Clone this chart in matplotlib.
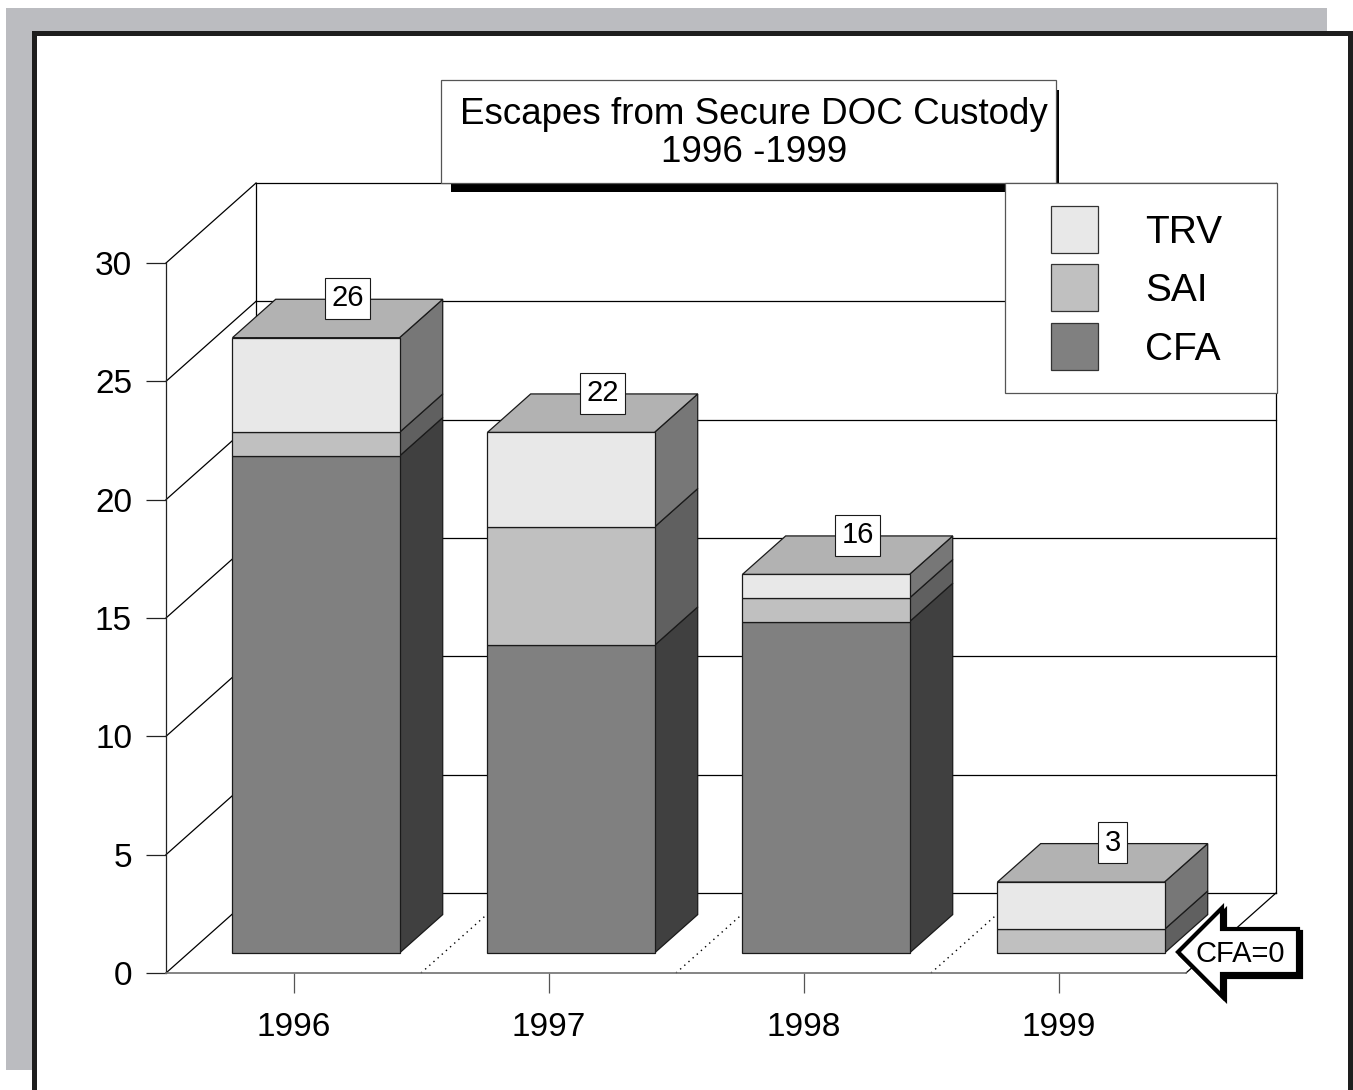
import matplotlib
matplotlib.use('Agg')
import matplotlib.pyplot as plt
from matplotlib.patches import Polygon, Rectangle

plt.rcParams['font.family'] = ['Liberation Sans', 'DejaVu Sans']

# data
years = ['1996', '1997', '1998', '1999']
cfa = [21, 13, 14, 0]
sai = [1, 5, 1, 1]
trv = [4, 4, 1, 2]
totals = [26, 22, 16, 3]
series_names = ['CFA', 'SAI', 'TRV']
front_colors = {'CFA': '#808080', 'SAI': '#c0c0c0', 'TRV': '#e8e8e8'}
side_colors = {'CFA': '#404040', 'SAI': '#606060', 'TRV': '#777777'}
top_colors = {'CFA': '#6a6a6a', 'SAI': '#a0a0a0', 'TRV': '#b2b2b2'}
yticks = [0, 5, 10, 15, 20, 25, 30]

W, H = 1353, 1090
fig = plt.figure(figsize=(W / 100, H / 100), dpi=100)

# background frame (pixel coordinates)
ax_bg = fig.add_axes([0, 0, 1, 1], zorder=0)
ax_bg.set_xlim(0, W)
ax_bg.set_ylim(H, 0)
ax_bg.axis('off')
ax_bg.add_patch(Rectangle((6, 8), 1321, 1062, facecolor='#bbbcc0', edgecolor='none'))
ax_bg.add_patch(Rectangle((33.5, 32.5), 1316, 1080, facecolor='white',
                          edgecolor='#1e1e1e', linewidth=3.6))

# chart axes: front plane of the 3d box
x0px, x1px, y0px, y30px = 166, 1186, 973, 263
ax = fig.add_axes([x0px / W, 1 - y0px / H, (x1px - x0px) / W, (y0px - y30px) / H], zorder=1)
ax.set_xlim(-0.5, 3.5)
ax.set_ylim(0, 30)
ax.patch.set_visible(False)

DX = 90 / 255.0                       # depth offset in category units
DY = 80 / ((y0px - y30px) / 30.0)     # depth offset in value units


def proj(x, y, z):
    return (x + z * DX, y + z * DY)


def line3(p, q, **kw):
    a = proj(*p)
    b = proj(*q)
    ax.plot([a[0], b[0]], [a[1], b[1]], clip_on=False, **kw)


# walls
for v in yticks:
    line3((-0.5, v, 0), (-0.5, v, 1), color='black', lw=0.9, zorder=1)
    line3((-0.5, v, 1), (3.5, v, 1), color='black', lw=0.9, zorder=1)
line3((-0.5, 0, 1), (-0.5, 30, 1), color='black', lw=0.9, zorder=1)
line3((3.5, 0, 1), (3.5, 30, 1), color='black', lw=0.9, zorder=1)
line3((3.5, 0, 0), (3.5, 0, 1), color='black', lw=0.9, zorder=1)
for b in [0.5, 1.5, 2.5]:
    line3((b, 0, 0), (b, 0, 1), color='black', lw=1.0, ls=(0, (1, 3)), zorder=1)

# bars
ZF, ZB = 0.25, 0.73
hw = 0.655 / 2
for i in range(len(years)):
    vals = {'CFA': cfa[i], 'SAI': sai[i], 'TRV': trv[i]}
    base = 0
    top_name = [n for n in series_names if vals[n] > 0][-1]
    for name in series_names:
        h = vals[name]
        if h <= 0:
            continue
        xa, xb = i - hw, i + hw
        ya, yb = base, base + h
        front = [proj(xa, ya, ZF), proj(xb, ya, ZF), proj(xb, yb, ZF), proj(xa, yb, ZF)]
        side = [proj(xb, ya, ZF), proj(xb, ya, ZB), proj(xb, yb, ZB), proj(xb, yb, ZF)]
        ax.add_patch(Polygon(side, closed=True, facecolor=side_colors[name],
                             edgecolor='#1a1a1a', lw=0.9, zorder=3, clip_on=False))
        ax.add_patch(Polygon(front, closed=True, facecolor=front_colors[name],
                             edgecolor='#1a1a1a', lw=0.9, zorder=3, clip_on=False))
        if name == top_name:
            top = [proj(xa, yb, ZF), proj(xb, yb, ZF), proj(xb, yb, ZB), proj(xa, yb, ZB)]
            ax.add_patch(Polygon(top, closed=True, facecolor=top_colors[name],
                                 edgecolor='#1a1a1a', lw=0.9, zorder=3, clip_on=False))
        base += h
    lx, ly = proj(i, totals[i], 0.6)
    ly += 0.14 * DY
    ax.text(lx, ly, str(totals[i]), ha='center', va='center', fontsize=21, zorder=5,
            bbox=dict(boxstyle='square,pad=0.22', facecolor='white', edgecolor='#1a1a1a', lw=0.8))

# axes: spines and ticks
for s in ['top', 'right']:
    ax.spines[s].set_visible(False)
ax.spines['left'].set_color('#222222')
ax.spines['bottom'].set_color('#707070')
ax.spines['left'].set_linewidth(0.9)
ax.spines['bottom'].set_linewidth(1.2)
ax.set_yticks(yticks)
ax.set_xticks(range(len(years)))
ax.set_xticklabels(years)
ax.tick_params(axis='y', direction='out', length=14.4, width=0.9, color='#222222',
               labelsize=24, pad=10)
ax.tick_params(axis='x', direction='out', length=14.4, width=0.9, color='#555555',
               labelsize=24, pad=14)

# overlay: title, legend, arrow (pixel coordinates)
ax_top = fig.add_axes([0, 0, 1, 1], zorder=2)
ax_top.set_xlim(0, W)
ax_top.set_ylim(H, 0)
ax_top.axis('off')

ax_top.add_patch(Rectangle((451, 90), 608, 102, facecolor='black', edgecolor='none'))
ax_top.add_patch(Rectangle((441, 80), 615, 103, facecolor='white', edgecolor='#555555', lw=0.9))
ax_top.text(754, 115, 'Escapes from Secure DOC Custody', ha='center', va='center', fontsize=26.5)
ax_top.text(754, 152, '1996 -1999', ha='center', va='center', fontsize=26.5)

ax_top.add_patch(Rectangle((1005, 183), 272, 210, facecolor='white', edgecolor='#555555', lw=0.9))
leg_y = [206, 264, 323]
for name, yy in zip(['TRV', 'SAI', 'CFA'], leg_y):
    ax_top.add_patch(Rectangle((1051, yy), 47, 47, facecolor=front_colors[name],
                               edgecolor='#333333', lw=0.9))
    ax_top.text(1145, yy + 27, name, ha='left', va='center', fontsize=28)

arrow = [(1178, 952), (1222, 908), (1222, 929), (1298, 929), (1298, 974), (1222, 974), (1222, 996)]
ax_top.add_patch(Polygon([(x + 3, y + 3) for x, y in arrow], closed=True,
                         facecolor='black', edgecolor='black', lw=3))
ax_top.add_patch(Polygon(arrow, closed=True, facecolor='white', edgecolor='black', lw=3))
ax_top.text(1240, 954, 'CFA=0', ha='center', va='center', fontsize=21)

fig.savefig('out.png', dpi=100)
